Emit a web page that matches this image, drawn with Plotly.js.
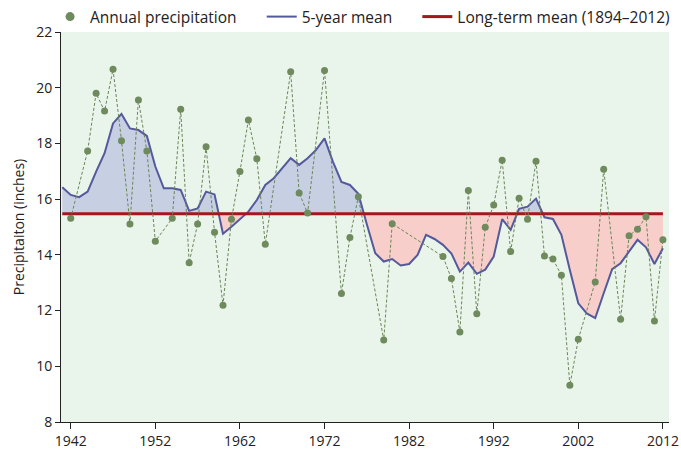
<!DOCTYPE html>
<html>
<head>
<meta charset="utf-8">
<script src="https://cdn.plot.ly/plotly-3.0.1.min.js"></script>
<style>html,body{margin:0;padding:0;background:#fff;}#chart{width:681px;height:450px;}</style>
</head>
<body>
<div id="chart"></div>
<script>
// Annual precipitation (years with a recorded value)
const annualYears = [1942,1944,1945,1946,1947,1948,1949,1950,1951,1952,1954,1955,1956,1957,1958,1959,1960,1961,1962,1963,1964,1965,1968,1969,1970,1972,1974,1975,1976,1979,1980,1986,1987,1988,1989,1990,1991,1992,1993,1994,1995,1996,1997,1998,1999,2000,2001,2002,2004,2005,2007,2008,2009,2010,2011,2012];
const annualPrecip = [15.31,17.73,19.80,19.16,20.66,18.10,15.11,19.56,17.73,14.49,15.31,19.23,13.72,15.11,17.88,14.81,12.19,15.28,16.99,18.84,17.45,14.38,20.57,16.22,15.50,20.62,12.61,14.62,16.09,10.94,15.12,13.94,13.15,11.23,16.31,11.89,14.99,15.79,17.40,14.12,16.03,15.28,17.36,13.96,13.85,13.27,9.32,10.97,13.03,17.07,11.69,14.69,14.92,15.37,11.63,14.54];

// 5-year mean
const meanYears = [1941,1942,1943,1944,1945,1946,1947,1948,1949,1950,1951,1952,1953,1954,1955,1956,1957,1958,1959,1960,1961,1962,1963,1964,1965,1966,1967,1968,1969,1970,1971,1972,1973,1974,1975,1976,1977,1978,1979,1980,1981,1982,1983,1984,1985,1986,1987,1988,1989,1990,1991,1992,1993,1994,1995,1996,1997,1998,1999,2000,2001,2002,2003,2004,2005,2006,2007,2008,2009,2010,2011,2012];
const mean5 = [16.43,16.15,16.07,16.27,16.99,17.65,18.72,19.06,18.54,18.48,18.27,17.17,16.39,16.39,16.33,15.58,15.67,16.27,16.17,14.76,15.01,15.28,15.55,15.97,16.51,16.75,17.11,17.47,17.23,17.47,17.77,18.18,17.34,16.62,16.51,16.19,15.10,14.06,13.76,13.85,13.62,13.67,14.00,14.72,14.57,14.36,14.05,13.40,13.72,13.32,13.47,13.94,15.28,14.90,15.65,15.73,16.02,15.35,15.29,14.72,13.46,12.26,11.90,11.73,12.62,13.49,13.70,14.12,14.54,14.27,13.67,14.24];

// Long-term mean (1894–2012)
const longTermMean = 15.48;

const xTicks = [1942,1952,1962,1972,1982,1992,2002,2012];
const yTicks = [8,10,12,14,16,18,20,22];

// Build above/below series with interpolated crossing points
const fx = [], fy = [];
for (let i = 0; i < meanYears.length; i++) {
  if (i > 0) {
    const a = mean5[i-1] - longTermMean, b = mean5[i] - longTermMean;
    if (a * b < 0) {
      const t = a / (a - b);
      fx.push(meanYears[i-1] + t * (meanYears[i] - meanYears[i-1]));
      fy.push(longTermMean);
    }
  }
  fx.push(meanYears[i]); fy.push(mean5[i]);
}
const base = fx.map(() => longTermMean);
const above = fy.map(v => Math.max(v, longTermMean));
const below = fy.map(v => Math.min(v, longTermMean));

const pad = '\u00a0\u00a0\u00a0\u00a0\u00a0';
const dotColor = '#6f8a5c';

const traces = [
  {x: fx, y: base, mode: 'lines', line: {width: 0}, showlegend: false, hoverinfo: 'skip'},
  {x: fx, y: above, mode: 'lines', line: {width: 0}, fill: 'tonexty', fillcolor: 'rgba(194,202,224,0.88)', showlegend: false, hoverinfo: 'skip'},
  {x: fx, y: base, mode: 'lines', line: {width: 0}, showlegend: false, hoverinfo: 'skip'},
  {x: fx, y: below, mode: 'lines', line: {width: 0}, fill: 'tonexty', fillcolor: 'rgba(248,200,196,0.88)', showlegend: false, hoverinfo: 'skip'},
  {x: meanYears, y: mean5, mode: 'lines', line: {color: '#54599c', width: 2}, name: '5-year mean' + pad, legendrank: 2},
  {x: [meanYears[0], meanYears[meanYears.length-1]], y: [longTermMean, longTermMean], mode: 'lines',
   line: {color: '#a5161e', width: 3}, name: 'Long-term mean (1894–2012)', legendrank: 3},
  {x: annualYears, y: annualPrecip, mode: 'lines+markers', showlegend: false,
   line: {color: '#6a8559', width: 1, dash: '3px,2px'},
   marker: {color: dotColor, size: 7}},
  {x: [null], y: [null], mode: 'markers', name: 'Annual precipitation' + pad, legendrank: 1,
   marker: {color: dotColor, size: 9}}
];

const layout = {
  width: 681, height: 450,
  margin: {l: 61, r: 12, t: 32, b: 28, autoexpand: false},
  paper_bgcolor: '#ffffff',
  plot_bgcolor: '#e9f4ea',
  font: {family: 'Open Sans, Liberation Sans, sans-serif', size: 13, color: '#222'},
  showlegend: true,
  legend: {orientation: 'h', traceorder: 'normal', x: -0.018, xanchor: 'left', y: 1.082, yanchor: 'top',
           font: {size: 15.5, color: '#222'}, itemwidth: 30, bgcolor: 'rgba(0,0,0,0)'},
  xaxis: {range: [1940.85, 2012.72], tickvals: xTicks, ticktext: xTicks.map(String),
          showgrid: false, zeroline: false, showline: true, linecolor: '#222', linewidth: 1,
          ticks: 'outside', ticklen: 6, tickcolor: '#222', tickfont: {size: 14}},
  yaxis: {range: [8, 22], tickvals: yTicks, ticktext: yTicks.map(String),
          showgrid: false, zeroline: false, showline: true, linecolor: '#222', linewidth: 1,
          ticks: 'outside', ticklen: 5, tickcolor: '#222', tickfont: {size: 14},
          title: {text: 'Precipitaiton (inches)', font: {size: 14}, standoff: 8}}
};

Plotly.newPlot('chart', traces, layout, {displayModeBar: false, staticPlot: true});
</script>
</body>
</html>
